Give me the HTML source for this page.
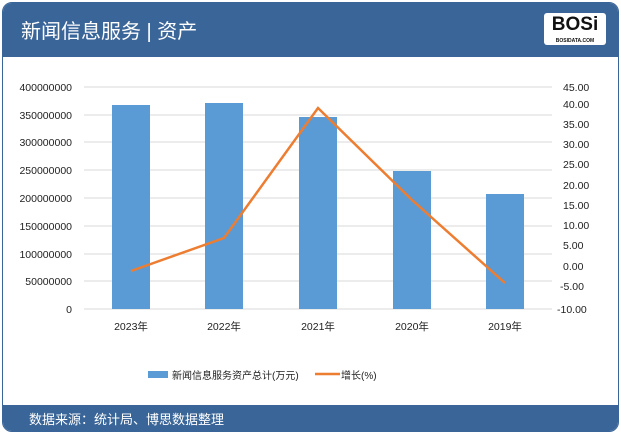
<!DOCTYPE html>
<html><head><meta charset="utf-8"><style>
body{margin:0;width:621px;height:434px;background:#fff;overflow:hidden;font-family:"Liberation Sans","Noto Sans CJK SC",sans-serif;}
.frame{position:absolute;left:2px;top:2px;width:615px;height:428px;border:1px solid #3a6598;border-radius:10px;overflow:hidden;background:#fff;}
.hdr{position:absolute;left:0;top:0;width:615px;height:54px;background:#3a6598;}
.hdr .t{position:absolute;left:18px;top:12px;color:#fff;font-size:20px;}
.logo{position:absolute;right:12px;top:10px;width:62px;height:32px;background:#fff;border-radius:3px;font-weight:bold;font-size:19px;text-align:center;line-height:24px;color:#111;}
.logo small{position:absolute;left:0;right:0;bottom:1px;font-size:5px;line-height:6px;}
.ftr{position:absolute;left:0;bottom:0;width:615px;height:26px;background:#3a6598;color:#fff;font-size:13px;}
.ftr span{position:absolute;left:26px;top:4px;}
</style></head><body>
<div class="frame">
<div class="hdr"><div class="t">新闻信息服务 | 资产</div><div class="logo">BOSi<small>BOSIDATA.COM</small></div></div>
<div class="ftr"><span>数据来源：统计局、博思数据整理</span></div>
</div>
<svg width="621" height="434" style="position:absolute;left:0;top:0" font-family="Liberation Sans,Noto Sans CJK SC,sans-serif" font-size="10.5" fill="#222">
<g stroke="#d9d9d9" stroke-width="1">
<line x1="84" x2="552" y1="87" y2="87"/><line x1="84" x2="552" y1="115" y2="115"/><line x1="84" x2="552" y1="142" y2="142"/><line x1="84" x2="552" y1="170" y2="170"/><line x1="84" x2="552" y1="198" y2="198"/><line x1="84" x2="552" y1="226" y2="226"/><line x1="84" x2="552" y1="254" y2="254"/><line x1="84" x2="552" y1="281" y2="281"/><line x1="84" x2="552" y1="309" y2="309"/>
</g>
<g fill="#5b9bd5">
<rect x="112" y="105" width="38" height="204"/>
<rect x="205" y="103" width="38" height="206"/>
<rect x="299" y="117" width="38" height="192"/>
<rect x="393" y="171" width="38" height="138"/>
<rect x="486" y="194" width="38" height="115"/>
</g>
<polyline points="131,271 224,238 318,108 412,200 505,283" fill="none" stroke="#ed7d31" stroke-width="2.5"/>
<g text-anchor="end">
<text x="72" y="91">400000000</text><text x="72" y="119">350000000</text><text x="72" y="146">300000000</text><text x="72" y="174">250000000</text><text x="72" y="202">200000000</text><text x="72" y="230">150000000</text><text x="72" y="258">100000000</text><text x="72" y="285">50000000</text><text x="72" y="313">0</text>
</g>
<g>
<text x="563" y="91">45.00</text><text x="563" y="108">40.00</text><text x="563" y="128">35.00</text><text x="563" y="148">30.00</text><text x="563" y="168">25.00</text><text x="563" y="189">20.00</text><text x="563" y="209">15.00</text><text x="563" y="229">10.00</text><text x="563" y="249">5.00</text><text x="563" y="270">0.00</text><text x="560" y="290">-5.00</text><text x="557" y="313">-10.00</text>
</g>
<g text-anchor="middle">
<text x="131" y="330">2023年</text><text x="224" y="330">2022年</text><text x="318" y="330">2021年</text><text x="412" y="330">2020年</text><text x="505" y="330">2019年</text>
</g>
<rect x="148" y="371" width="20" height="7" fill="#5b9bd5"/>
<text x="172" y="379" font-size="10">新闻信息服务资产总计(万元)</text>
<line x1="315" x2="340" y1="374" y2="374" stroke="#ed7d31" stroke-width="2.5"/>
<text x="341" y="379" font-size="10">增长(%)</text>
</svg>
</body></html>
